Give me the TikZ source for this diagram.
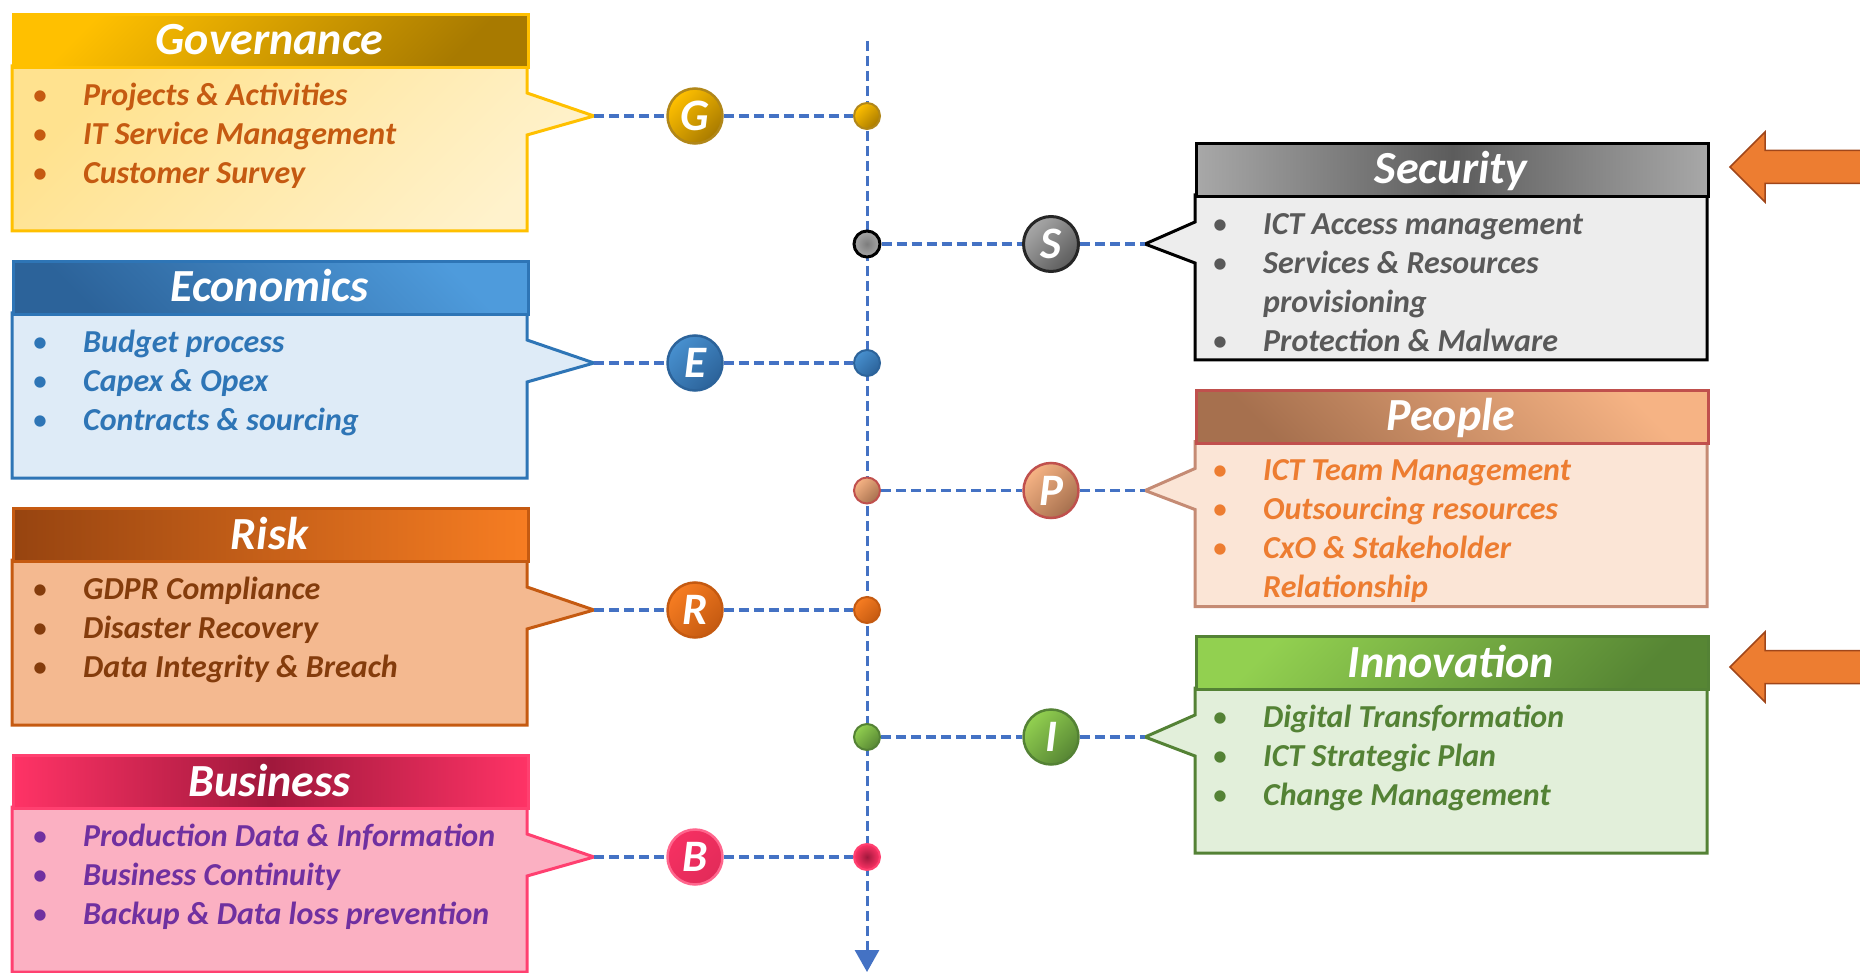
\documentclass[tikz,border=0pt]{standalone}
\usepackage{fontspec}
\setmainfont{Carlito}
\usetikzlibrary{arrows.meta,positioning}
\definecolor{linkblue}{HTML}{4472C4}
\definecolor{flagfill}{HTML}{ED7D31}
\definecolor{flagline}{HTML}{A0461A}
% governance
\definecolor{govline}{HTML}{FFC000}
\definecolor{govA}{HTML}{FFC000}
\definecolor{govB}{HTML}{A87A00}
\definecolor{govbodyA}{HTML}{FFE28F}
\definecolor{govbodyB}{HTML}{FFF2CC}
\definecolor{govtxt}{HTML}{C55A11}
% economics
\definecolor{ecoline}{HTML}{2E75B6}
\definecolor{ecoA}{HTML}{4E9BDC}
\definecolor{ecoB}{HTML}{2C639A}
\definecolor{ecobody}{HTML}{DEEBF7}
\definecolor{ecotxt}{HTML}{2E75B6}
% risk
\definecolor{riskline}{HTML}{C55A11}
\definecolor{riskA}{HTML}{974410}
\definecolor{riskB}{HTML}{F77D22}
\definecolor{riskbody}{HTML}{F4B990}
\definecolor{risktxt}{HTML}{843C0C}
% business
\definecolor{busline}{HTML}{FF4070}
\definecolor{busA}{HTML}{FF3366}
\definecolor{busB}{HTML}{A0183C}
\definecolor{busbody}{HTML}{FBB0C2}
\definecolor{bustxt}{HTML}{7030A0}
% security
\definecolor{secline}{HTML}{000000}
\definecolor{secA}{HTML}{A8A8A8}
\definecolor{secB}{HTML}{5C5C5C}
\definecolor{secbody}{HTML}{EDEDED}
\definecolor{sectxt}{HTML}{595959}
% people
\definecolor{pplhead}{HTML}{C0504D}
\definecolor{pplline}{HTML}{C58B74}
\definecolor{pplA}{HTML}{F6B384}
\definecolor{pplB}{HTML}{A6704E}
\definecolor{pplbody}{HTML}{FBE5D6}
\definecolor{ppltxt}{HTML}{ED7D31}
% innovation
\definecolor{innline}{HTML}{548235}
\definecolor{innA}{HTML}{92D050}
\definecolor{innB}{HTML}{578634}
\definecolor{innbody}{HTML}{E2EFDA}
\definecolor{inntxt}{HTML}{548235}
\newcommand{\bul}{\strut\makebox[53pt][l]{\hspace{2pt}{\mdseries\upshape\textbullet}}}
\tikzset{
  link/.style={draw=linkblue, line width=3.5pt, dash pattern=on 10pt off 5pt},
  head/.style={minimum width=515pt, minimum height=53pt, anchor=north west, line width=3pt, inner sep=0pt},
  title/.style={anchor=base, text=white, font=\fontsize{46}{50}\selectfont\bfseries\itshape},
  items/.style={anchor=north west, inner sep=0pt, align=left, font=\fontsize{32}{39}\selectfont\bfseries\itshape},
  ball/.style={circle, minimum size=55pt, inner sep=0pt, line width=2.5pt, text=white, font=\fontsize{45}{45}\selectfont\bfseries\itshape},
  dot/.style={circle, minimum size=26pt, inner sep=0pt, line width=2pt},
  body/.style={line width=3pt, line join=miter},
  flag/.style={draw=flagline, fill=flagfill, line width=1.5pt, line join=miter},
  % one set per box
  head gov/.style={draw=govline, top color=govA, bottom color=govB, shading angle=45},
  body gov/.style={draw=govline, top color=govbodyA, bottom color=govbodyB, shading angle=45},
  ball gov/.style={draw=govB!90, top color=govA, bottom color=govB, shading angle=45},
  dot gov/.style={draw=govB!90, top color=govA, bottom color=govB, shading angle=45},
  txt gov/.style={text=govtxt},
  head eco/.style={draw=ecoline, top color=ecoA, bottom color=ecoB, shading angle=-45},
  body eco/.style={draw=ecoline, fill=ecobody},
  ball eco/.style={draw=ecoB, top color=ecoA!80!ecoB, bottom color=ecoB, shading angle=45},
  dot eco/.style={draw=ecoB, top color=ecoA!80!ecoB, bottom color=ecoB, shading angle=45},
  txt eco/.style={text=ecotxt},
  head risk/.style={draw=riskline, left color=riskA, right color=riskB},
  body risk/.style={draw=riskline, fill=riskbody},
  ball risk/.style={draw=riskline, top color=riskB, bottom color=riskline, shading angle=45},
  dot risk/.style={draw=riskline, top color=riskB, bottom color=riskline, shading angle=45},
  txt risk/.style={text=risktxt},
  head bus/.style={draw=busline, left color=busA, right color=busA, middle color=busB},
  body bus/.style={draw=busline, fill=busbody},
  ball bus/.style={draw=busline!80!white, top color=busA!90!busB, bottom color=busA!70!busB, shading angle=45},
  dot bus/.style={draw=busline, inner color=busB, outer color=busA},
  txt bus/.style={text=bustxt},
  head sec/.style={draw=secline, left color=secA, right color=secA, middle color=secB},
  body sec/.style={draw=secline, fill=secbody},
  ball sec/.style={draw=black!85, line width=3pt, top color=secA, bottom color=secB, shading angle=45},
  dot sec/.style={draw=black, line width=3pt, inner color=secB!80, outer color=secA},
  txt sec/.style={text=sectxt},
  head ppl/.style={draw=pplhead, top color=pplA, bottom color=pplB, shading angle=-45},
  body ppl/.style={draw=pplline, fill=pplbody},
  ball ppl/.style={draw=pplhead, top color=pplA, bottom color=pplB, shading angle=45},
  dot ppl/.style={draw=pplhead, top color=pplA, bottom color=pplB, shading angle=45},
  txt ppl/.style={text=ppltxt},
  head inn/.style={draw=innline, top color=innA, bottom color=innB, shading angle=45},
  body inn/.style={draw=innline, fill=innbody},
  ball inn/.style={draw=innline, top color=innA, bottom color=innB, shading angle=45},
  dot inn/.style={draw=innline, top color=innA, bottom color=innB, shading angle=45},
  txt inn/.style={text=inntxt}
}

\begin{document}
\begin{tikzpicture}[x=1pt, y=-1pt]
\useasboundingbox (0,0) rectangle (1860,973);
% time axis
\coordinate (axtop) at (867,41);
\coordinate (axbot) at (867,972);
\draw[link, line width=3pt, -{Triangle[length=22pt, width=24pt]}] (axtop) -- (axbot);
% left boxes
\foreach \n/\t/\l/\k/\items in {
  gov/Governance/G/0/{\bul Projects \& Activities\\\bul IT Service Management\\\bul Customer Survey},
  eco/Economics/E/1/{\bul Budget process\\\bul Capex \& Opex\\\bul Contracts \& sourcing},
  risk/Risk/R/2/{\bul GDPR Compliance\\\bul Disaster Recovery\\\bul Data Integrity \& Breach},
  bus/Business/B/3/{\bul Production Data \& Information\\\bul Business Continuity\\\bul Backup \& Data loss prevention}}{
\pgfmathsetmacro\T{13+247*\k}
\draw[body, body \n] (12,{\T+53}) -- (527,{\T+53}) -- (527,{\T+80}) -- (594,{\T+103})
  -- (527,{\T+122}) -- (527,{\T+218}) -- (12,{\T+218}) -- cycle;
\coordinate (t-\n) at (594,{\T+103});
\node[head, head \n] (h-\n) at (12,\T) {};
\node[title] at (269.5,{\T+42}) {\t};
\node[items, txt \n] (x-\n) at (30,{\T+92-27.3}) {\items};
\node[ball, ball \n] (c-\n) at (695,{\T+103}) {\l};
\node[dot, dot \n] (d-\n) at (867,{\T+103}) {};
\draw[link] (t-\n) -- (c-\n) -- (d-\n);
}
% right boxes
\foreach \n/\t/\l/\k/\items in {
  sec/Security/S/0/{\bul ICT Access management\\\bul Services \& Resources\\\hspace*{53pt}provisioning\\\bul Protection \& Malware},
  ppl/People/P/1/{\bul ICT Team Management\\\bul Outsourcing resources\\\bul CxO \& Stakeholder\\\hspace*{53pt}Relationship},
  inn/Innovation/I/2/{\bul Digital Transformation\\\bul ICT Strategic Plan\\\bul Change Management}}{
\pgfmathsetmacro\T{142+246.5*\k}
\draw[body, body \n] (1707,{\T+53}) -- (1707,{\T+218}) -- (1195,{\T+218}) -- (1195,{\T+121})
  -- (1145,{\T+102}) -- (1195,{\T+80}) -- (1195,{\T+53}) -- cycle;
\coordinate (t-\n) at (1145,{\T+102});
\node[head, head \n, minimum width=512pt] (h-\n) at (1195,\T) {};
\node[title] at (1451,{\T+42}) {\t};
\node[items, txt \n] (x-\n) at (1210,{\T+92-27.3}) {\items};
\node[ball, ball \n] (c-\n) at (1051,{\T+102}) {\l};
\node[dot, dot \n] (d-\n) at (867,{\T+102}) {};
\draw[link] (d-\n) -- (c-\n) -- (t-\n);
}
% orange arrows
\foreach \y in {167,667}
  \draw[flag] (1865,{\y-16.5}) -- (1765,{\y-16.5}) -- (1765,{\y-35}) -- (1730,\y)
    -- (1765,{\y+35}) -- (1765,{\y+16.5}) -- (1865,{\y+16.5});
\end{tikzpicture}
\end{document}
